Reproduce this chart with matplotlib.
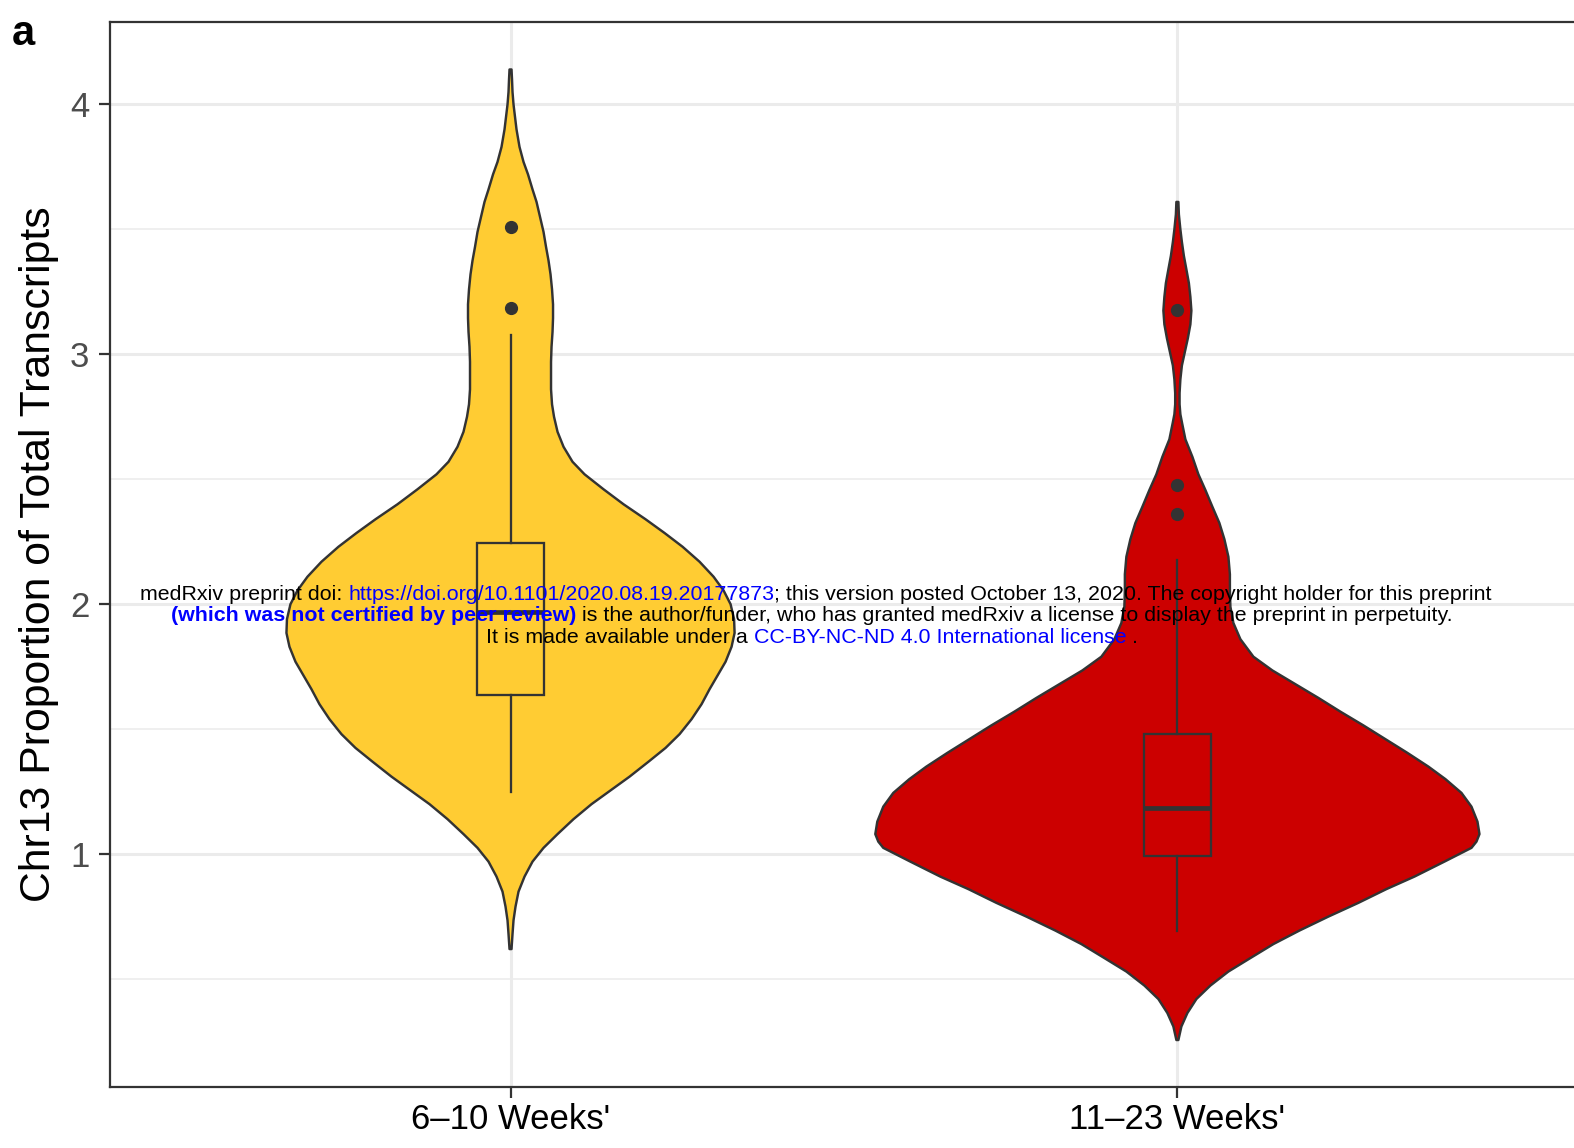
import matplotlib
matplotlib.use('Agg')
import matplotlib.pyplot as plt

plt.rcParams['font.family'] = ['Liberation Sans', 'DejaVu Sans']

# ---------------- data ----------------
categories = ["6\u201310 Weeks'", "11\u201323 Weeks'"]
fill_colors = ['#FFCC33', '#CC0000']

# violin outlines: y values and relative density (violin width)
yellow_y = [4.14, 4.10, 4.05, 4.00, 3.95, 3.90, 3.83, 3.77, 3.72, 3.66, 3.61, 3.55,
            3.49, 3.43, 3.375, 3.32, 3.26, 3.20, 3.145, 3.09, 3.03, 2.97, 2.92,
            2.86, 2.80, 2.75, 2.69, 2.63, 2.57, 2.52, 2.46, 2.40, 2.34, 2.285,
            2.23, 2.17, 2.11, 2.055, 2.00, 1.94, 1.885, 1.83, 1.77, 1.715, 1.66,
            1.60, 1.54, 1.48, 1.425, 1.37, 1.31, 1.255, 1.20, 1.14, 1.08, 1.025,
            0.97, 0.91, 0.85, 0.79, 0.735, 0.68, 0.62]
yellow_density = [1, 1.5, 2, 3, 4.5, 6, 9, 13, 17.5, 22, 26, 29.5, 33, 35.5, 38,
                  40, 41.5, 42.5, 42.5, 42, 41, 40.5, 40.5, 40.5, 41.5, 43.5, 47,
                  53, 62, 74, 93, 113, 135, 154, 172, 189, 203, 213, 220, 223.5,
                  224, 221, 215, 207, 199, 191, 181, 169, 155, 138, 119, 100, 81,
                  63, 47, 33, 22, 14, 8, 5, 3, 2, 1]

red_y = [3.61, 3.56, 3.50, 3.45, 3.394, 3.34, 3.285, 3.23, 3.175, 3.12, 3.065,
         3.01, 2.955, 2.90, 2.845, 2.80, 2.76, 2.725, 2.66, 2.59, 2.52, 2.457,
         2.39, 2.325, 2.26, 2.19, 2.12, 2.057, 1.99, 1.925, 1.86, 1.79, 1.735,
         1.68, 1.625, 1.57, 1.515, 1.46, 1.405, 1.35, 1.30, 1.245, 1.19, 1.13,
         1.08, 1.05, 1.025, 0.97, 0.91, 0.86, 0.805, 0.75, 0.694, 0.64, 0.584,
         0.53, 0.474, 0.42, 0.364, 0.31, 0.256]
red_density = [1, 1.5, 3, 4.5, 6.5, 9, 11.5, 13, 14, 13, 10.5, 7.5, 4.5, 3, 2.2,
               2.2, 3, 4.7, 8, 15, 21, 28, 35, 42, 47, 51, 52.5, 52.5, 53, 56, 63,
               76, 95, 118, 141, 163, 186, 208, 230, 251, 268, 284, 294, 300, 302,
               299, 294, 267, 237, 209, 181, 151, 122, 96, 73, 51, 33, 19, 10, 4, 1]

# boxplot statistics
q1 = [1.635, 0.993]
median = [1.97, 1.186]
q3 = [2.245, 1.479]
whisker_low = [1.248, 0.694]
whisker_high = [3.077, 2.177]
outliers = [[3.51, 3.185], [3.179, 2.477, 2.36]]

y_ticks = [1, 2, 3, 4]
y_minor = [0.5, 1.5, 2.5, 3.5]
ylabel = 'Chr13 Proportion of Total Transcripts'

# ---------------- figure ----------------
W, H = 1574, 1148
fig = plt.figure(figsize=(W / 100, H / 100), dpi=100)
ax = fig.add_axes([110.4 / W, 1 - 1087 / H, (1577.5 - 110.4) / W, (1087 - 22) / H])

edge = '#333333'
lw = 1.75
max_half_width = 0.453   # widest violin spans 0.9 of a category slot

dmax = max(max(yellow_density), max(red_density))
profiles = [(yellow_y, yellow_density), (red_y, red_density)]
for i, (ys, ds) in enumerate(profiles):
    pos = i + 1
    hws = [d / dmax * max_half_width for d in ds]
    left = [pos - h for h in hws]
    right = [pos + h for h in hws]
    xs = right + left[::-1]
    yy = list(ys) + list(ys)[::-1]
    ax.fill(xs, yy, facecolor=fill_colors[i], edgecolor=edge, linewidth=lw,
            zorder=2, joinstyle='round')

stats = []
for i in range(2):
    stats.append(dict(med=median[i], q1=q1[i], q3=q3[i],
                      whislo=whisker_low[i], whishi=whisker_high[i],
                      fliers=outliers[i]))
bp = ax.bxp(stats, positions=[1, 2], widths=0.1, patch_artist=True,
            showcaps=False, manage_ticks=False, zorder=3,
            boxprops=dict(edgecolor=edge, linewidth=1.65),
            whiskerprops=dict(color=edge, linewidth=1.65),
            medianprops=dict(color=edge, linewidth=3.4, solid_capstyle='butt'),
            flierprops=dict(marker='o', markerfacecolor=edge, markeredgecolor=edge,
                            markersize=8.5, linestyle='none'))
for patch, c in zip(bp['boxes'], fill_colors):
    patch.set_facecolor(c)

ax.set_xlim(0.4, 2.6)
ax.set_ylim(0.068, 4.33)
ax.set_xticks([1, 2])
ax.set_yticks(y_ticks)
ax.set_yticks(y_minor, minor=True)
ax.set_yticklabels([str(t) for t in y_ticks])
ax.set_xticklabels(categories, fontsize=25, color='black')

ax.set_axisbelow(True)
ax.grid(which='major', color='#EBEBEB', linewidth=2.2, zorder=0)
ax.grid(which='minor', axis='y', color='#EBEBEB', linewidth=1.1, zorder=0)

for s in ax.spines.values():
    s.set_color(edge)
    s.set_linewidth(1.6)

ax.tick_params(axis='both', which='major', length=7.7, width=1.6, color=edge)
ax.tick_params(axis='y', which='minor', length=0)
ax.tick_params(axis='y', labelsize=25, labelcolor='#4D4D4D', pad=7.5)
ax.tick_params(axis='x', pad=4)

fig.text(39 / W, 1 - 554 / H, ylabel, rotation=90, ha='center', va='center',
         fontsize=30.8, color='black')
fig.text(12 / W, 1 - 45 / H, 'a', fontsize=30, fontweight='bold', va='baseline',
         ha='left')

# ---------------- watermark ----------------
renderer = fig.canvas.get_renderer()
wm_size = 15.4
blue = '#0000FF'


def seg_width(s, **kw):
    t1 = fig.text(0, 0, s + '|', fontsize=wm_size, **kw)
    w1 = t1.get_window_extent(renderer).width
    t1.remove()
    t2 = fig.text(0, 0, '|', fontsize=wm_size, **kw)
    w2 = t2.get_window_extent(renderer).width
    t2.remove()
    return w1 - w2


lines = [
    (600, 816, [("medRxiv preprint doi: ", 'black', 'normal'),
                ("https://doi.org/10.1101/2020.08.19.20177873", blue, 'normal'),
                ("; this version posted October 13, 2020. The copyright holder for this preprint", 'black', 'normal')]),
    (621, 812, [("(which was not certified by peer review)", blue, 'bold'),
                (" is the author/funder, who has granted medRxiv a license to display the preprint in perpetuity.", 'black', 'normal')]),
    (643, 812, [("It is made available under a ", 'black', 'normal'),
                ("CC-BY-NC-ND 4.0 International license", blue, 'normal'),
                (" .", 'black', 'normal')]),
]
for base_y, cx, segs in lines:
    widths = [seg_width(s, fontweight=wt) for s, c, wt in segs]
    x = cx - sum(widths) / 2
    for (s, c, wt), w in zip(segs, widths):
        fig.text(x / W, 1 - base_y / H, s, fontsize=wm_size, color=c,
                 fontweight=wt, ha='left', va='baseline', zorder=10)
        x += w

fig.savefig('out.png', dpi=100)
